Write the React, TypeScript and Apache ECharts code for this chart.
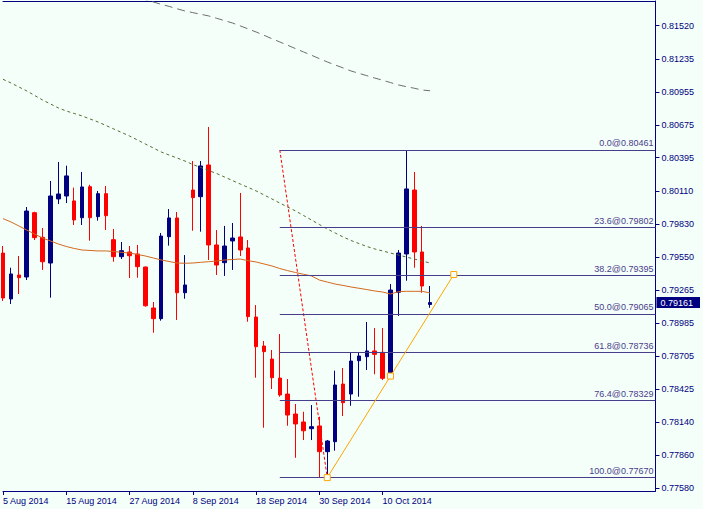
import React, { useEffect, useRef } from 'react';
import * as echarts from 'echarts';

const dates = [
  '5 Aug 2014', '6 Aug 2014', '7 Aug 2014', '8 Aug 2014', '11 Aug 2014', '12 Aug 2014', '13 Aug 2014', '14 Aug 2014',
  '15 Aug 2014', '18 Aug 2014', '19 Aug 2014', '20 Aug 2014', '21 Aug 2014', '22 Aug 2014', '25 Aug 2014', '26 Aug 2014',
  '27 Aug 2014', '28 Aug 2014', '29 Aug 2014', '1 Sep 2014', '2 Sep 2014', '3 Sep 2014', '4 Sep 2014', '5 Sep 2014',
  '8 Sep 2014', '9 Sep 2014', '10 Sep 2014', '11 Sep 2014', '12 Sep 2014', '15 Sep 2014', '16 Sep 2014', '17 Sep 2014',
  '18 Sep 2014', '19 Sep 2014', '22 Sep 2014', '23 Sep 2014', '24 Sep 2014', '25 Sep 2014', '26 Sep 2014', '29 Sep 2014',
  '30 Sep 2014', '1 Oct 2014', '2 Oct 2014', '3 Oct 2014', '6 Oct 2014', '7 Oct 2014', '8 Oct 2014', '9 Oct 2014',
  '10 Oct 2014', '13 Oct 2014', '14 Oct 2014', '15 Oct 2014', '16 Oct 2014', '17 Oct 2014', '20 Oct 2014',
];

const opens = [
  0.79583, 0.79192, 0.79396, 0.79379, 0.79927, 0.79717, 0.79498, 0.80044, 0.80069, 0.80027,
  0.79884, 0.80148, 0.79893, 0.80089, 0.79697, 0.79552, 0.79592, 0.79575, 0.79464, 0.79115,
  0.79024, 0.79722, 0.79882, 0.79245, 0.80120, 0.80063, 0.80333, 0.79652, 0.79501, 0.79686,
  0.79720, 0.79626, 0.79038, 0.78791, 0.78680, 0.78518, 0.78382, 0.78212, 0.78144, 0.78087,
  0.78110, 0.77891, 0.77976, 0.78467, 0.78382, 0.78666, 0.78700, 0.78749, 0.78737, 0.78564,
  0.79249, 0.79575, 0.80120, 0.79592, 0.79145,
];
const closes = [
  0.79200, 0.79405, 0.79373, 0.79941, 0.79714, 0.79509, 0.80069, 0.80086, 0.80240, 0.79865,
  0.80146, 0.79884, 0.80089, 0.79901, 0.79552, 0.79603, 0.79560, 0.79467, 0.79134, 0.79024,
  0.79728, 0.79882, 0.79245, 0.79311, 0.80055, 0.80325, 0.79652, 0.79481, 0.79643, 0.79711,
  0.79609, 0.79041, 0.78785, 0.78743, 0.78521, 0.78374, 0.78203, 0.78127, 0.78069, 0.78104,
  0.77891, 0.77982, 0.78459, 0.78308, 0.78663, 0.78706, 0.78749, 0.78720, 0.78516, 0.79268,
  0.79583, 0.80129, 0.79592, 0.79302, 0.79161,
];
const lows = [
  0.79175, 0.79149, 0.79234, 0.79353, 0.79694, 0.79439, 0.79203, 0.80001, 0.80009, 0.79822,
  0.79822, 0.79688, 0.79859, 0.79779, 0.79509, 0.79532, 0.79370, 0.79373, 0.79126, 0.78904,
  0.79007, 0.79646, 0.79013, 0.79194, 0.79773, 0.79765, 0.79524, 0.79396, 0.79388, 0.79439,
  0.79558, 0.78998, 0.78521, 0.78095, 0.78425, 0.78359, 0.78112, 0.77839, 0.77990, 0.77990,
  0.77675, 0.77670, 0.77899, 0.78195, 0.78282, 0.78359, 0.78587, 0.78550, 0.78501, 0.78530,
  0.79047, 0.79347, 0.79458, 0.79245, 0.79117,
];
const highs = [
  0.79643, 0.79458, 0.79558, 0.79975, 0.79935, 0.79796, 0.80197, 0.80359, 0.80327, 0.80140,
  0.80274, 0.80165, 0.80112, 0.80154, 0.79788, 0.79677, 0.79643, 0.79652, 0.79467, 0.79166,
  0.79754, 0.79958, 0.79933, 0.79566, 0.80367, 0.80367, 0.80657, 0.79779, 0.79814, 0.79839,
  0.80095, 0.79694, 0.79140, 0.78834, 0.78757, 0.78893, 0.78510, 0.78297, 0.78231, 0.78288,
  0.78189, 0.77990, 0.78581, 0.78604, 0.78734, 0.78734, 0.78996, 0.78944, 0.78944, 0.79319,
  0.79609, 0.80461, 0.80274, 0.79814, 0.79302,
];

const maFast = [
  0.79876, 0.79848, 0.79814, 0.79779, 0.79745, 0.79711, 0.79686, 0.79660, 0.79639, 0.79622,
  0.79609, 0.79605, 0.79601, 0.79601, 0.79596, 0.79589, 0.79583, 0.79571, 0.79558, 0.79541,
  0.79524, 0.79511, 0.79498, 0.79496, 0.79498, 0.79504, 0.79509, 0.79515, 0.79524, 0.79528,
  0.79532, 0.79518, 0.79507, 0.79490, 0.79473, 0.79451, 0.79433, 0.79417, 0.79402, 0.79388,
  0.79353, 0.79336, 0.79319, 0.79307, 0.79294, 0.79283, 0.79272, 0.79260, 0.79251, 0.79234,
  0.79254, 0.79257, 0.79257, 0.79257, 0.79243,
];
const maMid = [
  0.81063, 0.81032, 0.80998, 0.80964, 0.80925, 0.80887, 0.80853, 0.80819, 0.80793, 0.80772,
  0.80751, 0.80725, 0.80700, 0.80670, 0.80640, 0.80610, 0.80580, 0.80546, 0.80512, 0.80478,
  0.80444, 0.80418, 0.80393, 0.80367, 0.80337, 0.80312, 0.80286, 0.80261, 0.80231, 0.80201,
  0.80171, 0.80142, 0.80112, 0.80078, 0.80044, 0.80009, 0.79975, 0.79941, 0.79903, 0.79865,
  0.79826, 0.79788, 0.79754, 0.79720, 0.79690, 0.79664, 0.79639, 0.79618, 0.79601, 0.79583,
  0.79566, 0.79549, 0.79532, 0.79515, 0.79498,
];
const maSlow = [
  0.82110, 0.82085, 0.82062, 0.82040, 0.82018, 0.81998, 0.81978, 0.81958, 0.81940, 0.81922,
  0.81902, 0.81882, 0.81862, 0.81842, 0.81822, 0.81802, 0.81782, 0.81762, 0.81742, 0.81722,
  0.81702, 0.81684, 0.81664, 0.81645, 0.81631, 0.81617, 0.81603, 0.81583, 0.81563, 0.81543,
  0.81518, 0.81492, 0.81466, 0.81438, 0.81409, 0.81381, 0.81353, 0.81324, 0.81296, 0.81268,
  0.81239, 0.81211, 0.81185, 0.81160, 0.81134, 0.81114, 0.81094, 0.81074, 0.81055, 0.81035,
  0.81015, 0.81000, 0.80987, 0.80972, 0.80965,
];

const fibRatios = ['0.0', '23.6', '38.2', '50.0', '61.8', '76.4', '100.0'];
const fibLevels = [0.80461, 0.79802, 0.79395, 0.79065, 0.78736, 0.78329, 0.77670];
const fibAnchorX = [35, 41];
const fibAnchorY = [0.80461, 0.77670];

const trendX = [41, 49, 57];
const trendY = [0.77670, 0.78535, 0.79400];

const xLabelIndexes = [0, 8, 16, 24, 32, 40, 48];
const yTickLabels = [
  0.77580, 0.77860, 0.78140, 0.78425, 0.78705, 0.78985, 0.79265, 0.79550,
  0.79830, 0.80110, 0.80395, 0.80675, 0.80955, 0.81235, 0.81520,
];
const currentPrice = 0.79161;

const X_MAX = 82.5;
const BG = '#F5FFFA';
const NAVY = '#000080';
const FIB = '#483D8B';
const FONT = '"Liberation Sans", Arial, sans-serif';

export default function App() {
  const ref = useRef<HTMLDivElement>(null);

  useEffect(() => {
    const chart = echarts.init(ref.current!, null, { renderer: 'svg' });
    const candleData = dates.map((_, i) => [i, opens[i], closes[i], lows[i], highs[i]]);
    const toXY = (arr: (number | null)[]) => arr.map((v, i) => [i, v]);
    const yMin = 0.77556;
    const yMax = 0.8173;

    chart.setOption({
      animation: false,
      backgroundColor: BG,
      textStyle: { fontFamily: FONT },
      grid: { left: 0, top: 1, width: 660, height: 490 },
      xAxis: [
        {
          type: 'value',
          position: 'bottom',
          min: 0,
          max: X_MAX,
          axisLine: { show: true, onZero: false, lineStyle: { color: NAVY, width: 1 } },
          axisTick: { show: true, length: 4, customValues: xLabelIndexes, lineStyle: { color: NAVY } },
          axisLabel: {
            customValues: xLabelIndexes,
            formatter: (v: number) => dates[Math.round(v)] ?? '',
            align: 'left',
            color: NAVY,
            fontSize: 9,
            fontFamily: FONT,
            margin: 5,
          },
          splitLine: { show: false },
        },
        {
          type: 'value',
          position: 'top',
          min: 0,
          max: X_MAX,
          axisLine: { show: true, onZero: false, lineStyle: { color: NAVY, width: 1 } },
          axisTick: { show: false },
          axisLabel: { show: false },
          splitLine: { show: false },
        },
      ],
      yAxis: [
        {
          type: 'value',
          position: 'right',
          min: yMin,
          max: yMax,
          axisLine: { show: true, onZero: false, lineStyle: { color: NAVY, width: 1 } },
          axisTick: { show: true, length: 4, customValues: yTickLabels, lineStyle: { color: NAVY } },
          axisLabel: {
            customValues: yTickLabels,
            formatter: (v: number) => v.toFixed(5),
            color: NAVY,
            fontSize: 9,
            fontFamily: FONT,
            margin: 6,
          },
          splitLine: { show: false },
        },
        {
          type: 'value',
          position: 'right',
          offset: 0,
          min: yMin,
          max: yMax,
          axisLine: { show: false, onZero: false },
          axisTick: { show: false },
          axisLabel: {
            customValues: [currentPrice],
            formatter: (v: number) => v.toFixed(5),
            color: '#FFFFFF',
            backgroundColor: NAVY,
            padding: [1, 7, 0, 4],
            lineHeight: 10,
            fontSize: 9,
            fontFamily: FONT,
            margin: 1,
          },
          splitLine: { show: false },
        },
      ],
      series: [
        {
          type: 'candlestick',
          xAxisIndex: 0,
          yAxisIndex: 0,
          data: candleData,
          encode: { x: 0, y: [1, 2, 3, 4] },
          barWidth: 4,
          itemStyle: {
            color: NAVY,
            color0: '#FF0000',
            borderColor: NAVY,
            borderColor0: '#FF0000',
            borderWidth: 1,
          },
          silent: true,
        },
        {
          type: 'line',
          xAxisIndex: 0,
          yAxisIndex: 0,
          data: toXY(maSlow),
          symbol: 'none',
          silent: true,
          lineStyle: { color: '#6E6E6E', width: 1, type: [8, 5] },
        },
        {
          type: 'line',
          xAxisIndex: 0,
          yAxisIndex: 0,
          data: toXY(maMid),
          symbol: 'none',
          silent: true,
          lineStyle: { color: '#556B2F', width: 1, type: [3, 3] },
        },
        {
          type: 'line',
          xAxisIndex: 0,
          yAxisIndex: 0,
          data: toXY(maFast),
          symbol: 'none',
          silent: true,
          lineStyle: { color: '#D2691E', width: 1 },
        },
        {
          type: 'line',
          xAxisIndex: 0,
          yAxisIndex: 0,
          data: fibAnchorX.map((x, i) => [x, fibAnchorY[i]]),
          symbol: 'none',
          silent: true,
          lineStyle: { color: '#FF0000', width: 1, type: [3, 2] },
          markLine: {
            silent: true,
            symbol: ['none', 'none'],
            lineStyle: { color: FIB, width: 1, type: 'solid' },
            label: {
              show: true,
              position: 'insideEndTop',
              distance: 2,
              color: FIB,
              fontSize: 9,
              fontFamily: FONT,
              formatter: (p: any) => `${fibRatios[p.dataIndex]}@${fibLevels[p.dataIndex].toFixed(5)}`,
            },
            data: fibLevels.map((lvl) => [
              { coord: [fibAnchorX[0], lvl] },
              { coord: [X_MAX, lvl] },
            ]),
          },
        },
        {
          type: 'line',
          xAxisIndex: 0,
          yAxisIndex: 0,
          data: trendX.map((x, i) => [x, trendY[i]]),
          symbol: 'rect',
          symbolSize: 6,
          showSymbol: true,
          silent: true,
          lineStyle: { color: '#FFA500', width: 1 },
          itemStyle: { color: BG, borderColor: '#FFA500', borderWidth: 1 },
          z: 5,
        },
      ],
    });
    return () => chart.dispose();
  }, []);

  return (
    <div
      ref={ref}
      style={{ position: 'fixed', left: 0, top: 0, width: 703, height: 509, background: BG }}
    />
  );
}
